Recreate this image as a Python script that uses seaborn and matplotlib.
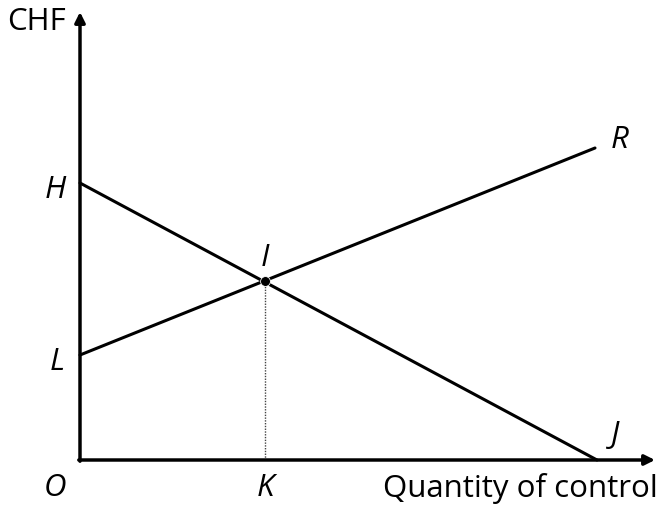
import matplotlib
matplotlib.use("Agg")
import matplotlib.pyplot as plt
import pandas as pd
import seaborn as sns

# points of the diagram (origin O at 0,0)
H = 277
L = 105
K = 185
I_y = 179
R = (515, 312)
J = (517, 0)
x_end = 575
y_end = 448

sns.set_theme(style="white")
plt.rcParams["font.family"] = ["Open Sans", "DejaVu Sans"]
plt.rcParams["text.color"] = "black"

fig = plt.figure(figsize=(6.68, 5.11), dpi=100)
ax = fig.add_axes([0, 0, 1, 1])
ax.set_xlim(-80, 588)
ax.set_ylim(-51, 460)
ax.axis("off")

lines = pd.DataFrame({
    "x": [0, J[0], 0, R[0]],
    "y": [H, J[1], L, R[1]],
    "curve": ["HJ", "HJ", "LR", "LR"],
})
sns.lineplot(data=lines, x="x", y="y", units="curve", estimator=None,
             color="black", lw=2.2, ax=ax, legend=False)

# dotted drop line from I to K
ax.plot([K, K], [0, I_y], color="#444444", lw=1, ls=(0, (1, 1)))
sns.scatterplot(x=[K], y=[I_y], color="black", s=50, ax=ax, zorder=5)

# axes with arrows
arrow = dict(arrowstyle="-|>", color="black", lw=2.5, mutation_scale=15,
             shrinkA=0, shrinkB=0)
ax.annotate("", xy=(0, y_end), xytext=(0, -1.2), arrowprops=arrow)
ax.annotate("", xy=(x_end, 0), xytext=(-1.2, 0), arrowprops=arrow)

fs = 22.5
ax.text(-73, 438, "CHF", fontsize=fs, ha="left", va="center", color="black")
ax.text(303, -28, "Quantity of control", fontsize=fs, ha="left", va="center",
        color="black")
for txt, x, y in [("H", -25, 270), ("L", -23, 98), ("O", -25, -28),
                  ("K", K, -28), ("I", K, 202), ("R", 540, 320), ("J", 535, 25)]:
    ax.text(x, y, txt, fontsize=fs, style="italic", ha="center", va="center",
            color="black")

fig.savefig("out.png", dpi=100)
